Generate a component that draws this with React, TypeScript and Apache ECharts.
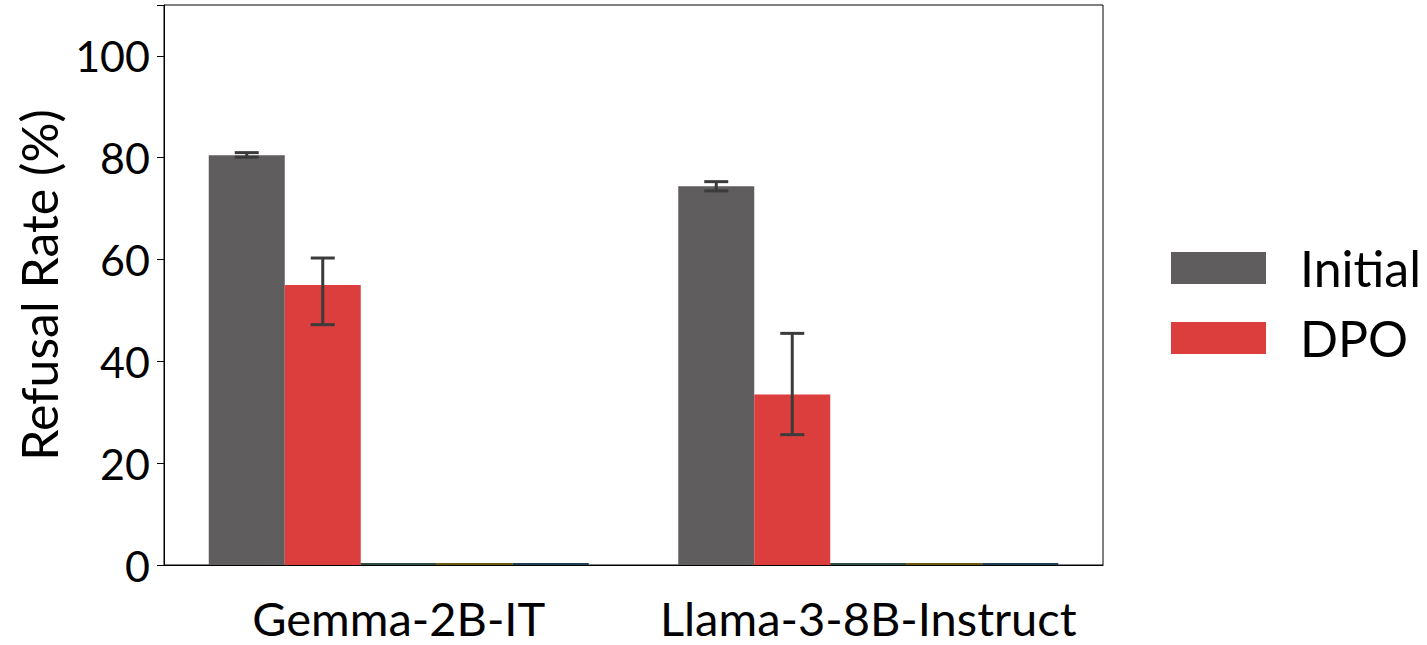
import React, { useEffect, useRef } from "react";
import * as echarts from "echarts";

const categories = ["Gemma-2B-IT", "Llama-3-8B-Instruct"];
const seriesNames = ["Initial", "DPO", "S3", "S4", "S5"];
const seriesColors = ["#5f5d5e", "#dc3d3d", "#2e4c40", "#6b5a14", "#1f3f52"];
const initialValues = [80.5, 74.4];
const dpoValues = [55.0, 33.5];
const zeroValues = [0, 0];
const initialErrLow = [80.1, 73.5];
const initialErrHigh = [81.0, 75.3];
const dpoErrLow = [47.2, 25.6];
const dpoErrHigh = [60.3, 45.5];
const yTicks = [0, 20, 40, 60, 80, 100];

const FONT = "Lato";
const BAR_W = 76;

export default function App() {
  const ref = useRef<HTMLDivElement>(null);
  useEffect(() => {
    if (!ref.current) return;
    const chart = echarts.init(ref.current, null, { renderer: "svg" });
    const nBars = seriesNames.length;
    const offsetFor = (idx: number) => (idx - (nBars - 1) / 2) * BAR_W;

    const errData: any[] = [];
    categories.forEach((_, i) => {
      errData.push([i, initialErrLow[i], initialErrHigh[i], 0]);
      errData.push([i, dpoErrLow[i], dpoErrHigh[i], 1]);
    });

    const valuesBySeries = [initialValues, dpoValues, zeroValues, zeroValues, zeroValues];

    const barSeries = seriesNames.map((name, k) => ({
      name,
      type: "bar",
      data: valuesBySeries[k],
      barWidth: BAR_W,
      barGap: "0%",
      barMinHeight: k >= 2 ? 2 : 0,
      itemStyle: { color: seriesColors[k] },
      z: 2,
    }));

    chart.setOption({
      animation: false,
      textStyle: { fontFamily: FONT },
      grid: {
        left: 164,
        top: 5,
        right: 1427 - 1103,
        bottom: 645 - 565,
        containLabel: false,
        show: true,
        borderColor: "#000",
        borderWidth: 1,
      },
      legend: {
        data: ["Initial", "DPO"],
        orient: "vertical",
        left: 1171,
        top: 243,
        padding: 0,
        itemWidth: 95,
        itemHeight: 32,
        itemGap: 20,
        icon: "rect",
        textStyle: { fontSize: 50, color: "#000", fontFamily: FONT, padding: [0, 0, 0, 29], lineHeight: 50 },
      },
      xAxis: {
        type: "category",
        data: categories,
        axisLine: { lineStyle: { color: "#000", width: 1 } },
        axisTick: { alignWithLabel: true, length: 7, lineStyle: { color: "#000", width: 1 } },
        axisLabel: { interval: 0, hideOverlap: false, fontSize: 47, lineHeight: 47, color: "#000", margin: 29, fontFamily: FONT },
      },
      yAxis: {
        type: "value",
        min: 0,
        max: 110,
        interval: 20,
        name: "Refusal Rate (%)",
        nameLocation: "middle",
        nameGap: 100,
        nameTextStyle: { fontSize: 50, color: "#000", fontFamily: FONT },
        splitLine: { show: false },
        axisLine: { show: true, lineStyle: { color: "#000", width: 1 } },
        axisTick: { show: true, length: 7, lineStyle: { color: "#000", width: 1 } },
        axisLabel: {
          fontSize: 43,
          color: "#000",
          margin: 14,
          fontFamily: FONT,
          formatter: (v: number) => (yTicks.includes(v) ? String(v) : ""),
        },
      },
      series: [
        ...barSeries,
        {
          type: "custom",
          name: "err",
          data: errData,
          z: 5,
          renderItem: (params: any, api: any) => {
            const ci = api.value(0);
            const lo = api.value(1);
            const hi = api.value(2);
            const si = api.value(3);
            const pLo = api.coord([ci, lo]);
            const pHi = api.coord([ci, hi]);
            const x = pLo[0] + offsetFor(si);
            const half = 12;
            const style = { stroke: "#3b3b3b", lineWidth: 3 };
            return {
              type: "group",
              children: [
                { type: "line", shape: { x1: x, y1: pLo[1], x2: x, y2: pHi[1] }, style },
                { type: "line", shape: { x1: x - half, y1: pLo[1], x2: x + half, y2: pLo[1] }, style },
                { type: "line", shape: { x1: x - half, y1: pHi[1], x2: x + half, y2: pHi[1] }, style },
              ],
            };
          },
        },
      ],
    });
    return () => chart.dispose();
  }, []);
  return <div ref={ref} style={{ width: 1427, height: 645, position: "absolute", left: 0, top: 0 }} />;
}
